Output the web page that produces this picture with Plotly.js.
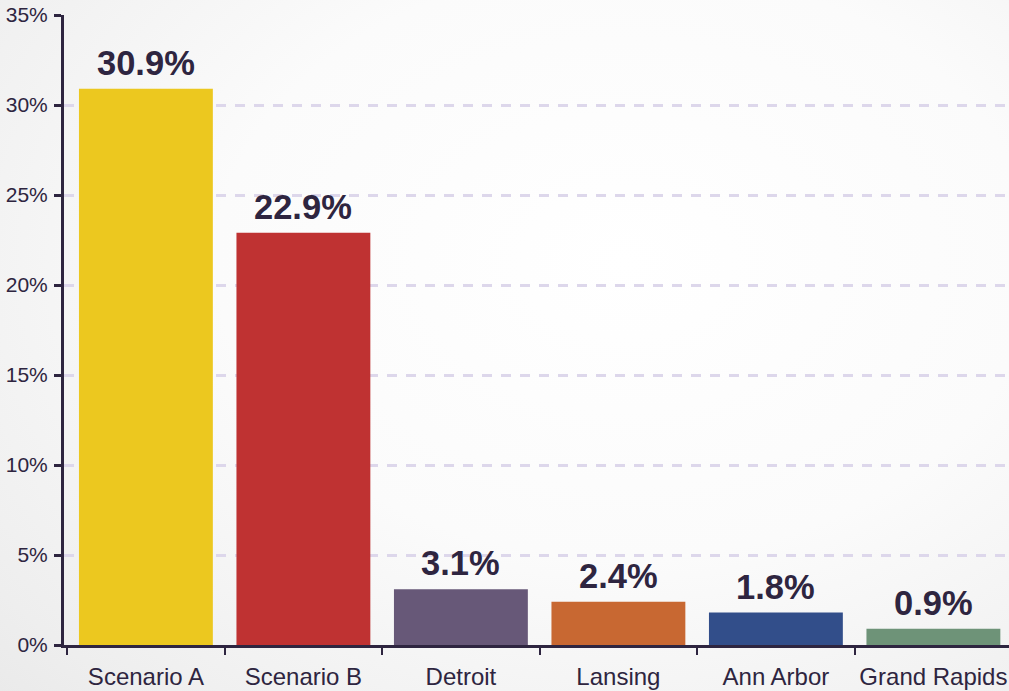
<!DOCTYPE html>
<html>
<head>
<meta charset="utf-8">
<script src="https://cdn.plot.ly/plotly-3.0.1.min.js"></script>
<style>
  html, body { margin: 0; padding: 0; }
  body {
    width: 1009px; height: 691px; overflow: hidden;
    background: radial-gradient(ellipse 90% 95% at 62% 38%, #ffffff 0%, #fbfbfb 45%, #eeeeee 85%, #e8e8e8 100%);
  }
  #chart { width: 1009px; height: 691px; }
</style>
</head>
<body>
<div id="chart"></div>
<script>
const categories = ["Scenario A", "Scenario B", "Detroit", "Lansing", "Ann Arbor", "Grand Rapids"];
const values = [30.9, 22.9, 3.1, 2.4, 1.8, 0.9];
const valueLabels = ["30.9%", "22.9%", "3.1%", "2.4%", "1.8%", "0.9%"];
const barColors = ["#ecc81f", "#bf3232", "#675878", "#c86832", "#324e8a", "#6e9378"];
const yTickVals = [0, 5, 10, 15, 20, 25, 30, 35];

const ink = "#2e2540";

const trace = {
  type: "bar",
  x: categories,
  y: values,
  marker: { color: barColors, line: { width: 0 } },
  hoverinfo: "skip"
};

const annotations = categories.map((c, i) => ({
  x: c,
  y: values[i],
  xref: "x",
  yref: "y",
  text: valueLabels[i],
  showarrow: false,
  yanchor: "bottom",
  yshift: 5,
  font: { family: "Liberation Sans, Arial, sans-serif", size: 34.5, color: ink, weight: "bold" }
}));

const layout = {
  width: 1009,
  height: 691,
  margin: { l: 64, r: 0, t: 15, b: 46, pad: 0 },
  paper_bgcolor: "rgba(0,0,0,0)",
  plot_bgcolor: "rgba(0,0,0,0)",
  bargap: 0.15,
  showlegend: false,
  font: { family: "Liberation Sans, Arial, sans-serif", color: ink },
  annotations: annotations,
  xaxis: {
    type: "category",
    range: [-0.52, 5.48],
    showline: true,
    linecolor: ink,
    linewidth: 3,
    ticks: "outside",
    tickson: "boundaries",
    ticklen: 7,
    tickwidth: 2,
    tickcolor: ink,
    showgrid: false,
    ticklabelstandoff: 8,
    tickfont: { size: 24, color: ink },
    fixedrange: true
  },
  yaxis: {
    range: [0, 35],
    tickvals: yTickVals,
    ticktext: yTickVals.map(v => v + "%"),
    showline: true,
    linecolor: ink,
    linewidth: 3,
    ticks: "outside",
    ticklen: 7,
    tickwidth: 3,
    tickcolor: ink,
    showgrid: true,
    gridcolor: "#ddd7eb",
    gridwidth: 3,
    griddash: "10px,9px",
    zeroline: false,
    ticklabelstandoff: 2,
    tickfont: { size: 21, color: ink },
    fixedrange: true
  }
};

Plotly.newPlot("chart", [trace], layout, { displayModeBar: false, staticPlot: true });
</script>
</body>
</html>
